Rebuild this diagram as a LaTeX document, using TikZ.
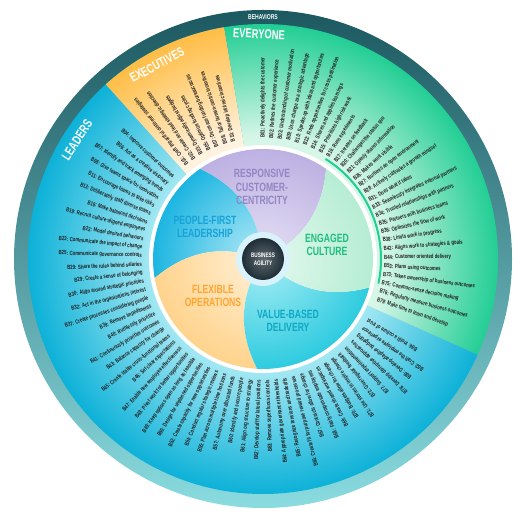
\documentclass[tikz,border=0pt]{standalone}
\usepackage{fontspec}
\setmainfont{Liberation Sans}
\newfontfamily\narrowfont[FakeStretch=0.72]{Liberation Sans}
\usetikzlibrary{calc}

\definecolor{ringdark}{HTML}{1C5860}
\definecolor{ringmid}{HTML}{2A9CA6}
\definecolor{ringlight}{HTML}{8ADCE0}
\definecolor{leadcyan}{HTML}{0DB1D8}
\definecolor{leadlight}{HTML}{A3E8F3}
\definecolor{everygreen}{HTML}{22CE94}
\definecolor{everylight}{HTML}{D6F6E8}
\definecolor{execorange}{HTML}{FFBD45}
\definecolor{execlight}{HTML}{FFF2DE}
\definecolor{purplein}{HTML}{E6E1F5}
\definecolor{purpleout}{HTML}{BDB1E2}
\definecolor{purpletext}{HTML}{9286C3}
\definecolor{bluein}{HTML}{B9ECF8}
\definecolor{blueout}{HTML}{1CB5E1}
\definecolor{bluetext}{HTML}{17A3D8}
\definecolor{greenin}{HTML}{E6F9F0}
\definecolor{greenout}{HTML}{B6EDD3}
\definecolor{greentext}{HTML}{1DBF7C}
\definecolor{valuein}{HTML}{A9EEF5}
\definecolor{valueout}{HTML}{2ECBE0}
\definecolor{valuetext}{HTML}{0EA8C6}
\definecolor{orangein}{HTML}{FFF1D9}
\definecolor{orangeout}{HTML}{FFD38C}
\definecolor{orangetext}{HTML}{FFA530}
\definecolor{coredark}{HTML}{1E2D36}

\pgfdeclareradialshading{leadshade}{\pgfpoint{0bp}{0bp}}{color(0bp)=(leadlight); color(12bp)=(leadlight); color(25bp)=(leadcyan); color(50bp)=(leadcyan)}
\pgfdeclareradialshading{everyshade}{\pgfpoint{0bp}{0bp}}{color(0bp)=(everylight); color(13bp)=(everylight); color(25bp)=(everygreen); color(50bp)=(everygreen)}
\pgfdeclareradialshading{execshade}{\pgfpoint{0bp}{0bp}}{color(0bp)=(execlight); color(13bp)=(execlight); color(25bp)=(execorange); color(50bp)=(execorange)}

% one petal of the inner disc, between two swirl lines
\def\drawpetal(#1:#2)[#3/#4]{%
  \begin{scope}
    \clip (0,0) to[bend right=30] (#1:110) arc[start angle=#1, end angle=#2, radius=110] to[bend left=30] (0,0);
    \shade[inner color=#3, outer color=#4] (0,0) circle (110);
  \end{scope}}

\tikzset{
  behavior/.style={font={\narrowfont\bfseries\fontsize{6}{7}\selectfont}, inner sep=0pt, text=black!88},
  group title/.style={font={\narrowfont\bfseries\fontsize{13}{13}\selectfont}, text=white, inner sep=0pt},
  petal title/.style={font={\narrowfont\bfseries\fontsize{12}{13.5}\selectfont}, align=center, inner sep=0pt},
}

\begin{document}
\begin{tikzpicture}[x=1pt,y=1pt]
	%%%%% START %%%%%
	\useasboundingbox (-263,-265) rectangle (261,259);
	
	% behaviors ring
	\shade[top color=ringdark, middle color=ringmid, bottom color=ringlight] (0,0) circle (249);
	\node[font={\narrowfont\bfseries\fontsize{7}{7}\selectfont}, text=white, inner sep=0pt] (behaviors) at (0,242) {BEHAVIORS};
	
	% the three groups
	\begin{scope}
		\clip (0,0) -- (99.5:235) arc[start angle=99.5, end angle=336, radius=235] -- cycle;
		\shade[shading=leadshade] (0,0) circle (235);
	\end{scope}
	\begin{scope}
		\clip (0,0) -- (99.5:235) arc[start angle=99.5, end angle=132, radius=235] -- cycle;
		\shade[shading=execshade] (0,0) circle (235);
	\end{scope}
	\begin{scope}
		\clip (0,0) -- (-24:235) arc[start angle=-24, end angle=99.5, radius=235] -- cycle;
		\shade[shading=everyshade] (0,0) circle (235);
	\end{scope}
	
	\node[group title, rotate=-3] (everyone) at (-4,225) {EVERYONE};
	\node[group title, rotate=28] (executives) at (-106,194) {EXECUTIVES};
	\node[group title, rotate=57] (leaders) at (-186,119) {LEADERS};
	
	% behaviors of everyone
	\foreach \txt [count=\i from 0] in {B01: Proactively delights the customer, B02: Refines the customer experience,
		B03: Understanding of customer motivation, B09: Uses change as a strategic advantage,
		B10: Speaks-up with ideas and opportunities, B12: Finds opportunities for cross pollination,
		B14: Shares and applies learnings, B15: Prioritizes high risk work, B16: Runs experiments,
		B17: Iterates on feedback, B20: Challenges the status quo, B21: Openly shares information,
		B26: Makes work visible, B27: Nurtures an open environment, B28: Actively cultivates a growth mindset,
		B31: Does what it takes, B33: Seamlessly integrates external partners, B34: Trusted relationships with partners,
		B35: Partners with business teams, B36: Optimizes the flow of work, B38: Limits work in progress,
		B42: Aligns work to strategies \& goals, B44: Customer oriented delivery, B53: Plans using outcomes,
		B73: Takes ownership of business outcomes, B75: Common-sense decision making,
		B76: Regularly measure business outcomes, B79: Make time to learn and develop}
	{
		\pgfmathsetmacro\ang{90-4.06*\i}
		\node[behavior, anchor=west, rotate=\ang] (every-\i) at (\ang:121) {\txt};
	}
	
	% behaviors of executives
	\foreach \txt [count=\i from 0] in {B10: Develop intrinsic incentives, B08: Tailor human-centric incentives,
		B07: Decrease funding bureaucracies, B05: Optimize funding cycles, B03: Dynamically adjust budgets,
		B02: Create and lead strategic direction, B01: Craft impactful customer strategies}
	{
		\pgfmathsetmacro\ang{104+4.1*\i}
		\node[behavior, anchor=west, rotate=\ang] (exec-\i) at (\ang:121) {\txt};
	}
	
	% behaviors of leaders
	\foreach \txt [count=\i from 0] in {B04: Improve customer outcomes, B06: Act as a creative visionary,
		B07: Identify and track emerging trends, B08: Give teams space for innovation,
		B11: Encourage teams to take risks, B13: Deliberately staff diverse teams, B18: Make balanced decisions,
		B19: Recruit culture-aligned employees, B22: Model desired behaviors, B23: Communicate the impact of change,
		B25: Communicate governance controls, B29: Share the rules behind salaries, B29: Create a sense of belonging,
		B30: Align around strategic priorities, B32: Act in the organizations interest,
		B37: Create processes considering people, B39: Remove impediments, B40: Ruthlessly prioritize,
		B41: Continuously prioritize outcomes, B43: Balance capacity for change,
		B45: Create stable cross-functional teams, B46: Set clear expectations,
		B47: Enable new employee effectiveness, B48: Pivot work for better opportunities,
		B49: Keep options open as long as feasible, B50: Design for unplanned opportunities,
		B52: Create capacity for new opportunities, B54: Conduct regular strategic reviews,
		B55: Plan across multiple time horizons, B57: Autonomy over allocated funds,
		B60: Identify and secure people, B61: Align org structure to strategy,
		B62: Develop staff for lateral positions, B63: Remove superfluous controls,
		B64: Appropriate governance thresholds, B65: Recognize tensions and tradeoffs,
		B66: Create fit for purpose reward processes, B67: Contracts allow for change,
		B68: Fairly compensate employees, B69: Create shared workspaces, B70: Budgets allow for change,
		B71: Use stories to inspire change, B72: Give regular feedback, B77: Support experimentation,
		B78: Develop disruptive approaches, B80: Develop adaptive budgeting,
		B82: Craft the employee experience, B84: Instill a culture of trust}
	{
		\pgfmathsetmacro\ang{137.6+4.08*\i}
		\node[behavior, anchor=east, rotate=\ang-180] (lead-\i) at (\ang:121) {\txt};
	}
	
	% inner disc
	\fill[white] (0,0) circle (114);
	\drawpetal(55:125)[purplein/purpleout]
	\drawpetal(125:190)[bluein/blueout]
	\drawpetal(190:267)[orangein/orangeout]
	\drawpetal(-93:-15)[valuein/valueout]
	\drawpetal(-15:55)[greenin/greenout]
	\draw[white, opacity=0.7, line width=3pt] (0,0) circle (112);
	\draw[everygreen, line width=2pt] (-12:118) arc[start angle=-12, end angle=58, radius=118];
	
	\node[petal title, text=purpletext] (responsive) at (-1,72) {RESPONSIVE\\CUSTOMER-\\CENTRICITY};
	\node[petal title, text=bluetext] (people) at (-58,32) {PEOPLE-FIRST\\LEADERSHIP};
	\node[petal title, text=greentext] (engaged) at (64,14) {ENGAGED\\CULTURE};
	\node[petal title, text=orangetext] (flexible) at (-50,-37) {FLEXIBLE\\OPERATIONS};
	\node[petal title, text=valuetext] (value) at (25,-62) {VALUE-BASED\\DELIVERY};
	
	% business agility core
	\fill[white!85!cyan] (0,0) circle (27);
	\shade[inner color=coredark!70, outer color=coredark] (0,0) circle (21);
	\node[font={\narrowfont\bfseries\fontsize{6.5}{8}\selectfont}, text=white, align=center, inner sep=0pt] (agility) at (0,0) {BUSINESS\\AGILITY};
	%%%%% END %%%%%
\end{tikzpicture}
\end{document}
